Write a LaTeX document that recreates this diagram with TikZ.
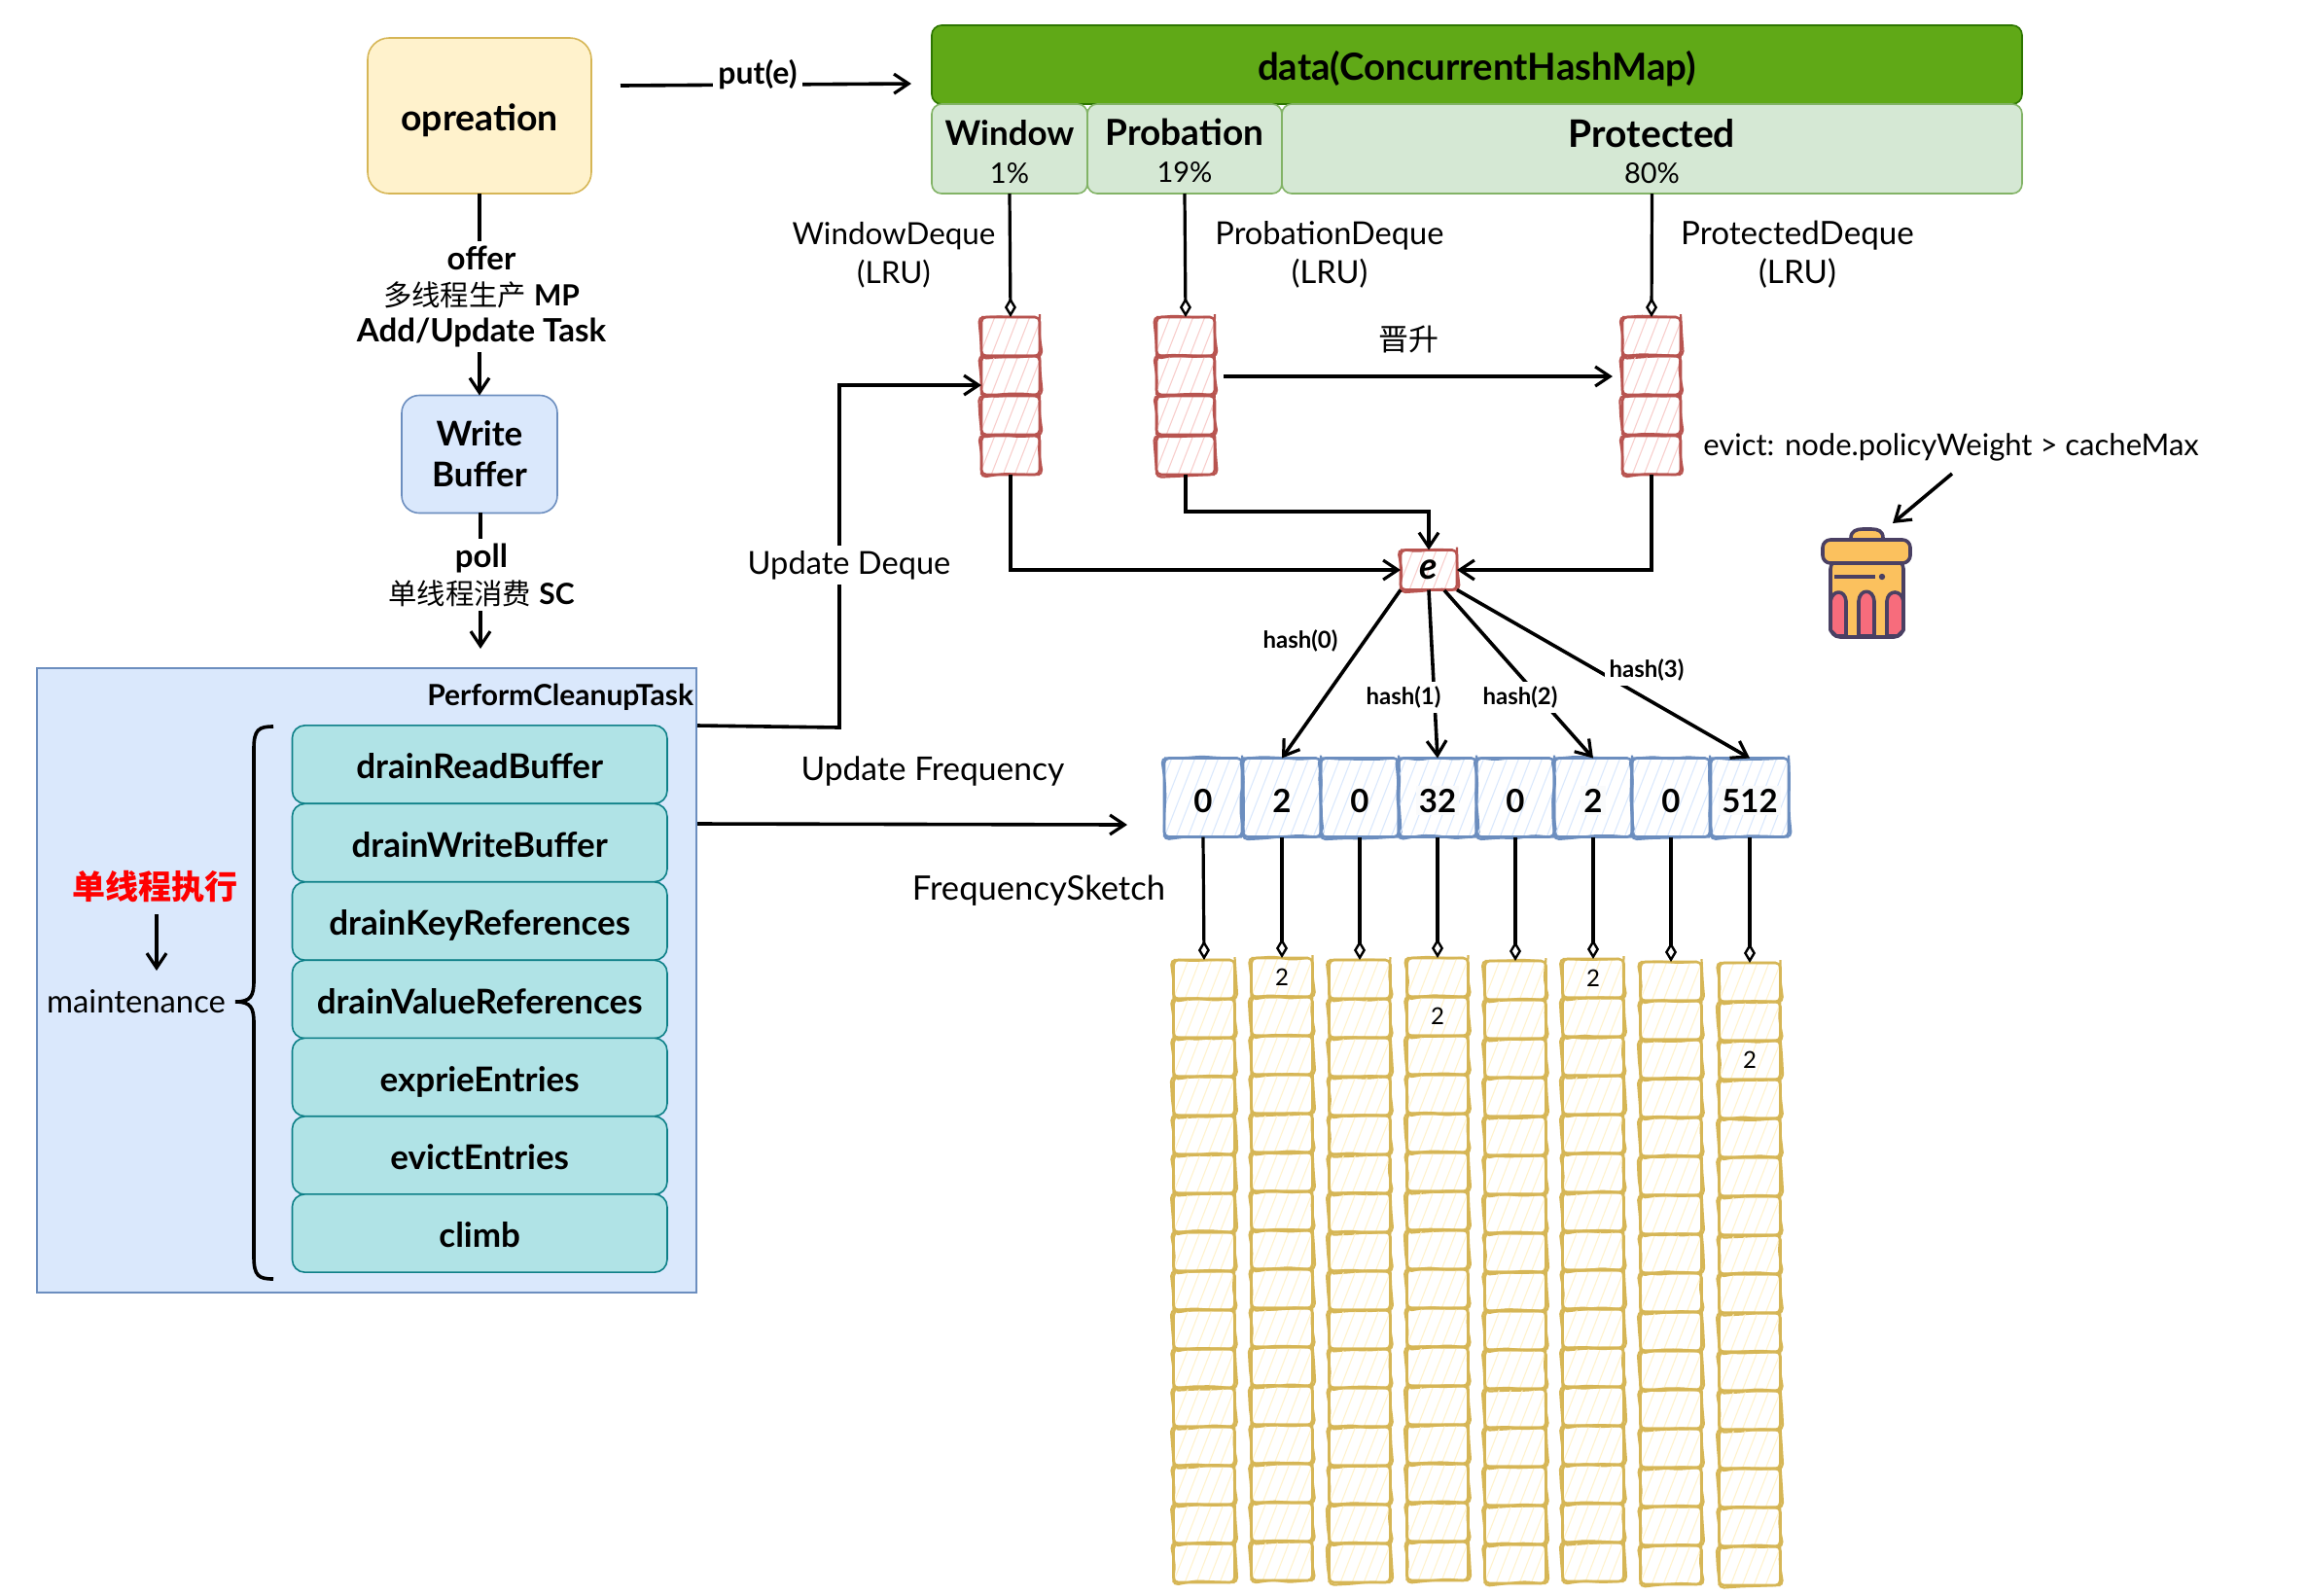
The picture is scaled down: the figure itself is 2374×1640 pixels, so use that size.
\documentclass[tikz,border=0pt]{standalone}
\usepackage{fontspec}
\setmainfont{Lato}
\newfontfamily\cjk{Noto Sans CJK SC}
\usetikzlibrary{arrows.meta,calc,decorations.pathmorphing}
\definecolor{redF}{HTML}{F8CECC}\definecolor{redS}{HTML}{B85450}
\definecolor{bluF}{HTML}{DAE8FC}\definecolor{bluS}{HTML}{6C8EBF}
\definecolor{yelF}{HTML}{FFF2CC}\definecolor{yelS}{HTML}{D6B656}
\definecolor{grnF}{HTML}{D5E8D4}\definecolor{grnS}{HTML}{82B366}
\definecolor{dgrF}{HTML}{60A917}\definecolor{dgrS}{HTML}{2D7600}
\definecolor{teaF}{HTML}{B0E3E6}\definecolor{teaS}{HTML}{0E8088}
\definecolor{icoS}{HTML}{4A4063}\definecolor{icoO}{HTML}{FBC15E}\definecolor{icoR}{HTML}{F76C7C}
\definecolor{txtbg}{HTML}{FAFBFC}
\newcommand{\fs}[1]{\fontsize{#1}{#1}\selectfont}
\newcommand{\bgtxt}[1]{{\setlength{\fboxsep}{1.5pt}\colorbox{txtbg}{#1}}}
\newcommand{\cjklab}[1]{{\cjk\mdseries\fontsize{14.7}{18.5}\selectfont #1}}
\newcommand{\latlab}[1]{{\fontsize{15}{18.5}\selectfont #1}}
\tikzset{
  hachure/.style={path picture={\foreach \i in {-14,...,14}
     \draw[#1,line width=0.55pt] ($(path picture bounding box.center)+(\i*12-35,90)$) -- +(70,-180);}},
  sketch/.style n args={4}{draw=#2,line width=1.3pt,inner sep=0pt,outer sep=0pt,rounded corners=2.5pt,
     minimum width=#3*0.5pt,minimum height=#4*0.5pt,hachure=#1,
     postaction={draw=#2,line width=1.1pt,decorate,decoration={random steps,segment length=9pt,amplitude=0.9pt}}},
  redcell/.style={sketch={redF}{redS}{60}{40}},
  blucell/.style={sketch={bluF}{bluS}{80}{81},font=\bfseries\fs{16.5},text height=16pt,text depth=1pt},
  yelcell/.style={sketch={yelF}{yelS}{63}{40}},
  plain/.style={draw=#1,line width=0.8pt,inner sep=0pt,outer sep=0pt},
  databox/.style={plain=dgrS,fill=dgrF,rounded corners=5pt,minimum width=1121*0.5pt,minimum height=81*0.5pt,font=\bfseries\fs{19.2},text height=17pt,text depth=1pt},
  part/.style={plain=grnS,fill=grnF,rounded corners=5pt,minimum height=92*0.5pt,align=center},
  teal/.style={plain=teaS,fill=teaF,rounded corners=6.5pt,minimum width=385.5*0.5pt,minimum height=80.3*0.5pt,font=\bfseries\fs{17.5},text height=16pt,text depth=1.4pt},
  txt/.style={inner sep=0pt,outer sep=0pt,align=center},
  lbl/.style={txt,fill=white,inner sep=2.5pt},
  wire/.style={draw=black,line width=1.8pt,line join=miter},
  thin wire/.style={draw=black,line width=1.6pt},
  barb/.style={-{Straight Barb[length=7.5pt,width=10pt,line width=1.6pt]}},
  dia/.style={-{Diamond[open,length=10pt,width=6pt,line width=1.2pt]}},
  ico/.style={draw=icoS,line width=1.8pt,line join=round},
}
\begin{document}
\begin{tikzpicture}[x=0.5pt,y=-0.5pt]
\pgfmathsetseed{11}
\useasboundingbox (0,0) rectangle (2374,1640);

% containers
\node[plain=bluS,fill=bluF,minimum width=678*0.5pt,minimum height=642*0.5pt,line width=1pt] (perform) at (377,1008) {};

% top
\node[plain=yelS,fill=yelF,rounded corners=11pt,minimum width=230*0.5pt,minimum height=160*0.5pt,font=\bfseries\fs{18.7},text height=16pt,text depth=1pt] (op) at (493,119) {opreation};
\node[plain=bluS,fill=bluF,rounded corners=9pt,minimum width=160*0.5pt,minimum height=121*0.5pt,align=center,font=\bfseries\fs{17.5}] (wb) at (493,467) {Write\\[3.5pt]Buffer};
\node[databox] (data) at (1518.5,66.5) {data(ConcurrentHashMap)};
\node[part,minimum width=160*0.5pt] (pw) at (1038,153) {\rule{0pt}{16pt}{\bfseries\fs{17.5}Window}\\[7.5pt]{\fs{14.5}1\%}};
\node[part,minimum width=200*0.5pt] (pp) at (1218,153) {\rule{0pt}{16pt}{\bfseries\fs{18.5}Probation}\\[7pt]{\fs{14.5}19\%}};
\node[part,minimum width=761*0.5pt] (pt) at (1698.5,153) {\rule{0pt}{17pt}{\bfseries\fs{19.5}Protected}\\[6.5pt]{\fs{14.5}80\%}};

% deques
\foreach \n/\x in {w/1039,p/1219,t/1698}{
  \node[redcell] (\n1) at (\x,346) {};
  \node[redcell] (\n2) at (\x,386) {};
  \node[redcell] (\n3) at (\x,427) {};
  \node[redcell] (\n4) at (\x,468) {};
}
\node[sketch={redF}{redS}{58}{41},font=\bfseries\itshape\fs{19}] (e) at (1469,586) {e};

% frequency row
\foreach \i/\x/\t in {1/1237/0,2/1318/2,3/1398/0,4/1478/\bgtxt{32},5/1558/0,6/1638/\bgtxt{2},7/1718/0,8/1799/\bgtxt{512}}
  \node[blucell] (f\i) at (\x,820) {\t};

% sketch columns
\foreach \c/\x/\y in {1/1238/987,2/1318/985,3/1398/987,4/1478/985,5/1558/988,6/1638/986,7/1718/989,8/1799/990}{
  \foreach \r in {1,...,16}{
    \pgfmathsetmacro{\yy}{\y+(\r-0.5)*40}
    \node[yelcell] (y\c-\r) at (\x,\yy) {};
  }
  \draw[thin wire,dia] (f\c.south) -- (y\c-1.north);
}
\node[txt,font=\fs{12}] (n1) at (y2-1) {2};
\node[txt,font=\fs{12}] (n2) at (y4-2) {2};
\node[txt,font=\fs{12}] (n3) at (y6-1) {2};
\node[txt,font=\fs{12}] (n4) at (y8-3) {2};

% task list
\node[teal] (task1) at (493.2,786) {drainReadBuffer};
\node[teal] (task2) at (493.2,866.5) {drainWriteBuffer};
\node[teal] (task3) at (493.2,947) {drainKeyReferences};
\node[teal] (task4) at (493.2,1027.5) {drainValueReferences};
\node[teal] (task5) at (493.2,1107.5) {exprieEntries};
\node[teal] (task6) at (493.2,1188) {evictEntries};
\node[teal] (task7) at (493.2,1268) {climb};
\node[txt,anchor=east,font=\bfseries\fs{15}] (ptask) at (713,717) {PerformCleanupTask};
\node[txt,font=\fs{16.4}] (maint) at (140,1030) {maintenance};
\node[txt,text=red,font=\cjk\bfseries\fs{17}] (single) at (160,912) {单线程执行};
\draw[wire] (281,747) .. controls (266,747) and (261,750) .. (261,770) -- (261,1008)
   .. controls (261,1024) and (258,1030) .. (242,1030) .. controls (258,1030) and (261,1036) .. (261,1052)
   -- (261,1292) .. controls (261,1312) and (266,1315) .. (281,1315);
\coordinate (sa) at (161,940); \coordinate (sb) at (161,998);
\draw[thin wire,barb] (sa) -- (sb);

% free ends
\coordinate (ps) at (638,88); \coordinate (pe) at (937,86);
\coordinate (ba) at (494,527); \coordinate (bb) at (494,667);
\coordinate (ud) at (717,746); \coordinate (ud1) at (863,748); \coordinate (ud2) at (863,396);
\coordinate (uf) at (717,847); \coordinate (ufe) at (1159,848);
\coordinate (pr1) at (1258,387); \coordinate (pr2) at (1658,387);
\coordinate (wi) at (1009,396);
\coordinate (evs) at (2007,487); \coordinate (eve) at (1946,538);
\coordinate (e2) at (1485,607);

% connectors
\draw[wire,barb] (ps) -- (pe);
\draw[thin wire,barb] (op.south) -- (wb.north);
\draw[thin wire,barb] (ba) -- (bb);
\draw[thin wire,dia] (pw.south) -- (w1.north);
\draw[thin wire,dia] (pp.south) -- (p1.north);
\draw[thin wire,dia] (pt.south) -- (t1.north);
\draw[wire,barb] (ud) -- (ud1) -- (ud2) -- (wi);
\draw[wire,barb] (uf) -- (ufe);
\draw[wire,barb] (pr1) -- (pr2);
\draw[wire,barb] (w4.south) |- (e.west);
\draw[wire,barb] (p4.south) -- ++(0,38) -| (e.north);
\draw[wire,barb] (t4.south) |- (e.east);
\draw[wire,barb] (e.south west) -- (f2.north);
\draw[wire,barb] (e.south) -- (f4.north);
\draw[wire,barb] (e2) -- (f6.north);
\draw[wire,barb] (e.south east) -- (f8.north);
\draw[wire,barb] (evs) -- (eve);

% labels
\node[lbl,font=\bfseries\fs{16}] (lput) at (779,77) {put(e)};
\node[lbl,font=\bfseries\fontsize{16.5}{18.5}\selectfont] (loffer) at (495,305) {offer\\\cjklab{多线程生产}~\latlab{MP}\\Add/Update Task};
\node[lbl,font=\bfseries\fontsize{16.5}{19}\selectfont] (lpoll) at (495,591) {poll\\\cjklab{单线程消费}~\latlab{SC}};
\node[lbl,font=\fs{16.3}] (lud) at (873,581) {Update Deque};
\node[txt,font=\fs{16.8}] (luf) at (959,793) {Update Frequency};
\node[txt,font=\fs{17.3}] (lfs) at (1068,916) {FrequencySketch};
\node[txt,font=\fontsize{15.7}{20}\selectfont] (lwd) at (919,262) {WindowDeque\\(LRU)};
\node[txt,font=\fontsize{16.3}{20}\selectfont] (lpd) at (1367,262) {ProbationDeque\\(LRU)};
\node[txt,font=\fontsize{16.6}{20}\selectfont] (ltd) at (1848,262) {ProtectedDeque\\(LRU)};
\node[txt,font=\cjk\fs{15.5}] (lup) at (1448,349) {晋升};
\node[txt,font=\fs{15.5}] (lev) at (2006,460) {evict: node.policyWeight > cacheMax};
\node[lbl,font=\bfseries\fs{12}] (h0) at (1337,659) {hash(0)};
\node[lbl,font=\bfseries\fs{12}] (h1) at (1443,717) {hash(1)};
\node[lbl,font=\bfseries\fs{12}] (h2) at (1563,717) {hash(2)};
\node[lbl,font=\bfseries\fs{12}] (h3) at (1693,689) {hash(3)};

% trash icon
\draw[ico,fill=icoO,rounded corners=5pt] (1882,575) rectangle (1957,655);
\draw[ico,fill=icoO] (1903,556) -- (1903,553) .. controls (1903,546) and (1909,544) .. (1915,544) -- (1924,544) .. controls (1931,544) and (1936,546) .. (1936,553) -- (1936,556) -- cycle;
\draw[ico,fill=icoO,rounded corners=4pt] (1874,555) rectangle (1964,579);
\draw[ico,fill=icoR] (1882,648) -- (1882,618) .. controls (1884,606) and (1897,606) .. (1898,618) -- (1898,654) -- (1888,654) -- cycle;
\draw[ico,fill=icoR] (1911,654) -- (1911,618) .. controls (1912,605) and (1926,605) .. (1927,618) -- (1927,654) -- cycle;
\draw[ico,fill=icoR] (1957,648) -- (1957,618) .. controls (1955,606) and (1941,606) .. (1940,618) -- (1940,654) -- (1951,654) -- cycle;
\draw[ico] (1886,593) -- (1928,593);
\fill[icoS] (1935,593) circle (1.6pt);
\end{tikzpicture}
\end{document}
